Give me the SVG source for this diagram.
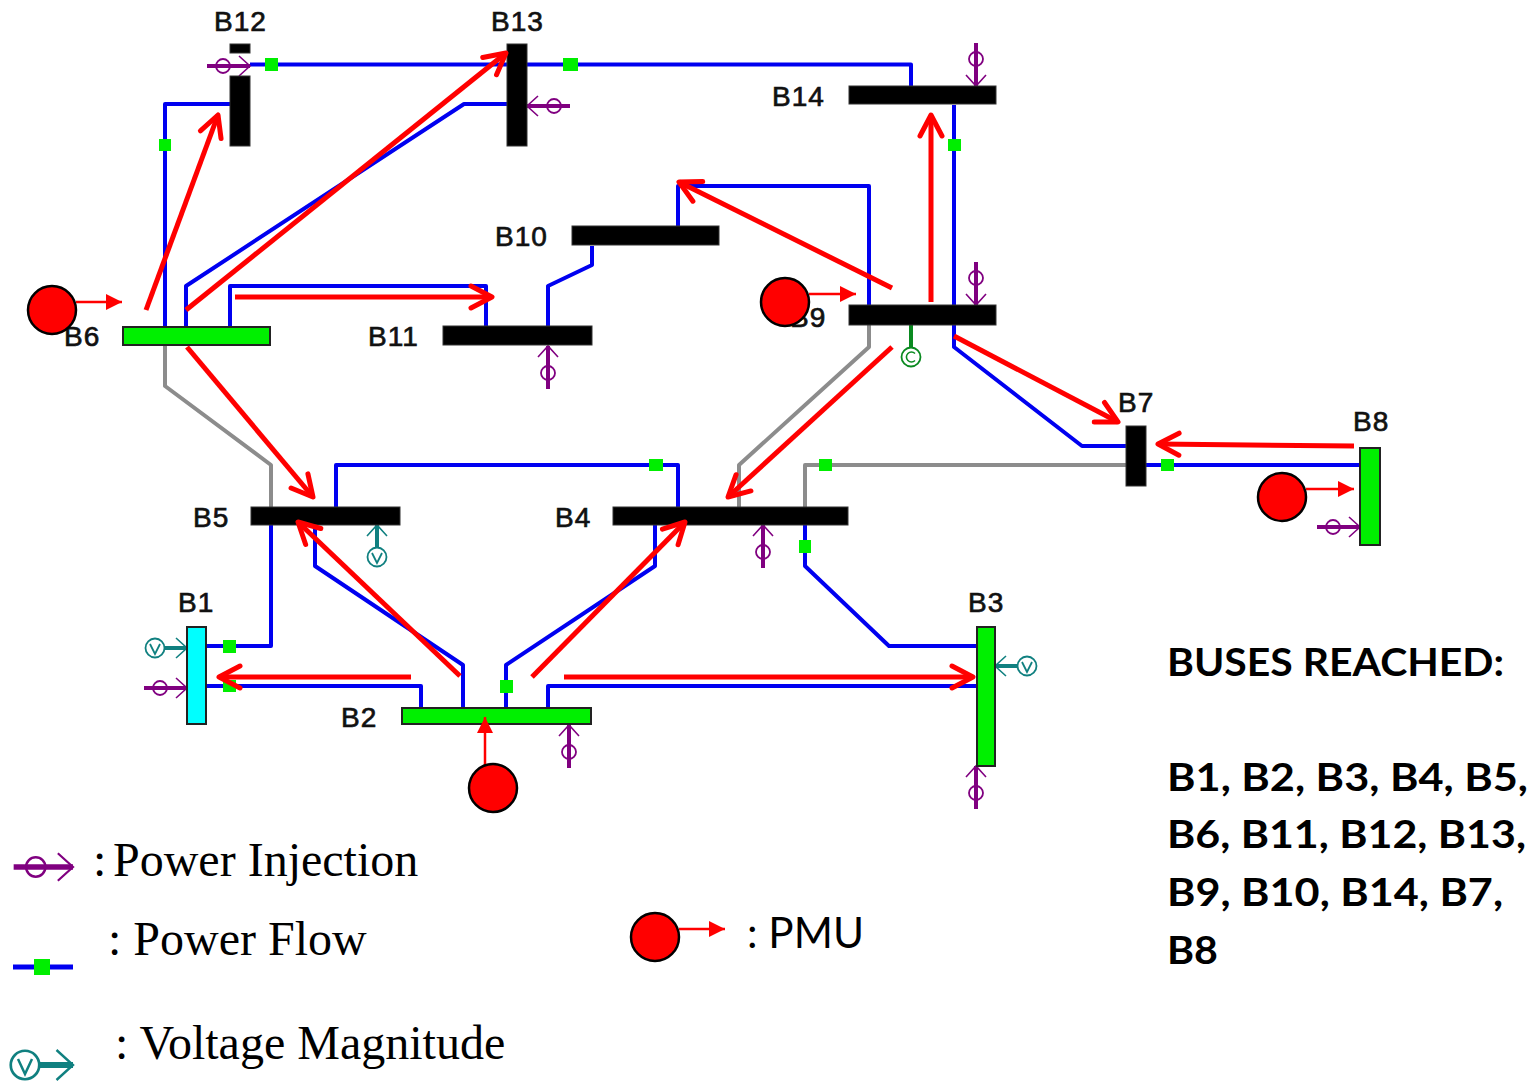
<svg xmlns="http://www.w3.org/2000/svg" xmlns:xlink="http://www.w3.org/1999/xlink" width="1540" height="1081" viewBox="0 0 1540 1081">
<style>
.bl{font:28px "Liberation Sans",Arial,sans-serif;fill:#111;letter-spacing:1px;stroke:#111;stroke-width:.7}
.line{fill:none;stroke:#0000f0;stroke-width:4;stroke-linejoin:round}
.grey{fill:none;stroke:#8c8c8c;stroke-width:4;stroke-linejoin:round}
.ps{fill:#00ee00;stroke:none}
.bus{fill:#000;stroke:#333;stroke-width:1}
.busg{fill:#00f000;stroke:#222;stroke-width:2}
.busc{fill:#00ffff;stroke:#222;stroke-width:2}
.ra{fill:none;stroke:#f00;stroke-width:5;marker-end:url(#open)}
.pm{fill:#f00;stroke:#000;stroke-width:2.5}
.pa{stroke:#f00;stroke-width:2.5;fill:none;marker-end:url(#solid)}
.leg{font:48px "Liberation Serif","Times New Roman",serif;fill:#000}
.side{font:700 39px Lato,"Open Sans",sans-serif;fill:#000}
</style>
<defs>
<marker id="open" markerUnits="userSpaceOnUse" markerWidth="34" markerHeight="34" refX="21" refY="13" orient="auto" overflow="visible"><path d="M0 2 L21 13 L0 24" fill="none" stroke="#f00" stroke-width="5" stroke-linecap="round" stroke-linejoin="round"/></marker>
<marker id="solid" markerUnits="userSpaceOnUse" markerWidth="18" markerHeight="18" refX="16" refY="8" orient="auto"><path d="M0 0 L16 8 L0 16Z" fill="#f00"/></marker>
<g id="inj"><path d="M-43 0H0" stroke="#800080" stroke-width="4" fill="none"/><circle cx="-27" cy="0" r="7" fill="none" stroke="#800080" stroke-width="1.800"/><path d="M-11 -10L0 0L-11 10" fill="none" stroke="#800080" stroke-width="1.600"/></g>
<g id="vol"><path d="M-22 0H0" stroke="#108080" stroke-width="4" fill="none"/><path d="M-11 -10L0 0L-11 10" fill="none" stroke="#108080" stroke-width="1.600"/><circle cx="-32" cy="0" r="9.500" fill="none" stroke="#108080" stroke-width="1.800"/></g>
</defs>
<rect width="1540" height="1081" fill="#fff"/>
<g id="connectors">
<path class="line" d="M250 64.500H911V86"/>
<path class="line" d="M230 104H165V326"/>
<path class="line" d="M186 326V286L464 104H507"/>
<path class="line" d="M230 326V286H486V326"/>
<path class="line" d="M548 326V286L592 265V246"/>
<path class="line" d="M678 226V186H869V305"/>
<path class="line" d="M954 105V347L1082 446H1126"/>
<path class="line" d="M1146 465H1360"/>
<path class="grey" d="M805 507V465H1126"/>
<path class="grey" d="M165 346V386L271 465V507"/>
<path class="grey" d="M869 325V347L739 465V507"/>
<path class="line" d="M336 507V465H678V507"/>
<path class="line" d="M271 525V646H206"/>
<path class="line" d="M206 686H421V707"/>
<path class="line" d="M463 707V665L315 566V525"/>
<path class="line" d="M506 707V665L655 566V525"/>
<path class="line" d="M548 707V686H976"/>
<path class="line" d="M805 525V566L889 646H976"/>
<path d="M911 325V347" stroke="#0a8a20" stroke-width="4" fill="none"/>
</g>
<g id="flow-markers">
<rect class="ps" x="265" y="58" width="13" height="13"/>
<rect class="ps" x="563" y="58" width="15" height="13"/>
<rect class="ps" x="159" y="139" width="12" height="12"/>
<rect class="ps" x="948" y="139" width="13" height="12"/>
<rect class="ps" x="649" y="459" width="14" height="12"/>
<rect class="ps" x="819" y="459" width="13" height="12"/>
<rect class="ps" x="1161" y="459" width="13" height="12"/>
<rect class="ps" x="799" y="540" width="12" height="13"/>
<rect class="ps" x="223" y="640" width="13" height="13"/>
<rect class="ps" x="223" y="680" width="13" height="12"/>
<rect class="ps" x="500" y="680" width="13" height="13"/>
</g>
<g id="symbols">
<use href="#inj" transform="translate(250 66)"/>
<use href="#inj" transform="translate(527 106) rotate(180)"/>
<use href="#inj" transform="translate(976 86) rotate(90)"/>
<use href="#inj" transform="translate(976 305) rotate(90)"/>
<use href="#inj" transform="translate(548 346) rotate(-90)"/>
<use href="#inj" transform="translate(569 725) rotate(-90)"/>
<use href="#inj" transform="translate(763 525) rotate(-90)"/>
<use href="#inj" transform="translate(976 766) rotate(-90)"/>
<use href="#inj" transform="translate(187 688)"/>
<use href="#inj" transform="translate(1360 527)"/>
<g><use href="#vol" transform="translate(187 648)"/><path d="M150 644L155 654L160 644" fill="none" stroke="#108080" stroke-width="1.800"/></g>
<g><use href="#vol" transform="translate(377 525) rotate(-90)"/><path d="M372 553L377 563L382 553" fill="none" stroke="#108080" stroke-width="1.800"/></g>
<g><use href="#vol" transform="translate(995 666) rotate(180)"/><path d="M1022 662L1027 672L1032 662" fill="none" stroke="#108080" stroke-width="1.800"/></g>
<circle cx="911" cy="357" r="9.500" fill="none" stroke="#0a8a20" stroke-width="1.800"/>
<path d="M915 353.500A5 5 0 1 0 915 360.500" fill="none" stroke="#0a8a20" stroke-width="1.600"/>
</g>
<g id="B12"><rect class="bus" x="230" y="44" width="20" height="9"/><rect class="bus" x="230" y="76" width="20" height="70"/><text class="bl" x="214" y="31">B12</text></g>
<g id="B13"><rect class="bus" x="507" y="44" width="20" height="102"/><text class="bl" x="491" y="31">B13</text></g>
<g id="B14"><rect class="bus" x="849" y="86" width="147" height="18"/><text class="bl" x="772" y="106">B14</text></g>
<g id="B10"><rect class="bus" x="572" y="226" width="147" height="19"/><text class="bl" x="495" y="246">B10</text></g>
<g id="B11"><rect class="bus" x="443" y="326" width="149" height="19"/><text class="bl" x="368" y="346">B11</text></g>
<g id="B6"><text class="bl" x="64" y="346">B6</text><rect class="busg" x="123" y="327" width="147" height="18"/></g>
<g id="B9"><text class="bl" x="790" y="327">B9</text><rect class="bus" x="849" y="305" width="147" height="20"/></g>
<g id="B7"><rect class="bus" x="1126" y="426" width="20" height="60"/><text class="bl" x="1118" y="412">B7</text></g>
<g id="B8"><rect class="busg" x="1360" y="448" width="20" height="97"/><text class="bl" x="1353" y="431">B8</text></g>
<g id="B5"><rect class="bus" x="251" y="507" width="149" height="18"/><text class="bl" x="193" y="527">B5</text></g>
<g id="B4"><rect class="bus" x="613" y="507" width="235" height="18"/><text class="bl" x="555" y="527">B4</text></g>
<g id="B1"><rect class="busc" x="187" y="627" width="19" height="97"/><text class="bl" x="178" y="612">B1</text></g>
<g id="B2"><rect class="busg" x="402" y="708" width="189" height="16"/><text class="bl" x="341" y="727">B2</text></g>
<g id="B3"><rect class="busg" x="977" y="627" width="18" height="139"/><text class="bl" x="968" y="612">B3</text></g>
<g id="flow-arrows">
<path class="ra" d="M146 310L218 115"/>
<path class="ra" d="M186 310L506 53"/>
<path class="ra" d="M235 297H492"/>
<path class="ra" d="M187 347L313 497"/>
<path class="ra" d="M460 676L298 522"/>
<path class="ra" d="M411 677H219"/>
<path class="ra" d="M532 677L685 522"/>
<path class="ra" d="M564 677H973"/>
<path class="ra" d="M892 288L679 182"/>
<path class="ra" d="M931 302V115"/>
<path class="ra" d="M892 347L728 497"/>
<path class="ra" d="M954 336L1118 422"/>
<path class="ra" d="M1354 446L1158 444"/>
</g>
<g id="pmu-B6"><path class="pa" d="M76 302H122"/><circle class="pm" cx="52" cy="310" r="24"/></g>
<g id="pmu-B9"><path class="pa" d="M809 294H856"/><circle class="pm" cx="785" cy="302" r="24"/></g>
<g id="pmu-B8"><path class="pa" d="M1306 489H1354"/><circle class="pm" cx="1282" cy="497" r="24"/></g>
<g id="pmu-B2"><path class="pa" d="M485 766V717"/><circle class="pm" cx="493" cy="788" r="24"/></g>
<g id="legend">
<use href="#inj" transform="translate(73 867) scale(1.380)"/>
<text class="leg" x="93" y="876">:</text><text class="leg" x="113" y="876">Power Injection</text>
<path d="M13 967H73" stroke="#0000f0" stroke-width="5"/><rect class="ps" x="34" y="959" width="16" height="16"/>
<text class="leg" x="108" y="955">: Power Flow</text>
<g><use href="#vol" transform="translate(73 1065) scale(1.500)"/><path d="M18 1059L25 1074L32 1059" fill="none" stroke="#108080" stroke-width="2.500"/></g>
<text class="leg" x="115" y="1059">: Voltage Magnitude</text>
<path class="pa" d="M679 929H725"/><circle class="pm" cx="655" cy="937" r="24"/>
<text x="747" y="948" style="font:42px Lato,'Open Sans',sans-serif;fill:#000" textLength="117" lengthAdjust="spacingAndGlyphs">: PMU</text>
</g>
<g id="buses-reached">
<text class="side" x="1167" y="676" textLength="337" lengthAdjust="spacingAndGlyphs">BUSES REACHED:</text>
<text class="side" x="1167" y="791" textLength="361" lengthAdjust="spacingAndGlyphs">B1, B2, B3, B4, B5,</text>
<text class="side" x="1167" y="848" textLength="359" lengthAdjust="spacingAndGlyphs">B6, B11, B12, B13,</text>
<text class="side" x="1167" y="906" textLength="336" lengthAdjust="spacingAndGlyphs">B9, B10, B14, B7,</text>
<text class="side" x="1167" y="964" textLength="51" lengthAdjust="spacingAndGlyphs">B8</text>
</g>
</svg>
